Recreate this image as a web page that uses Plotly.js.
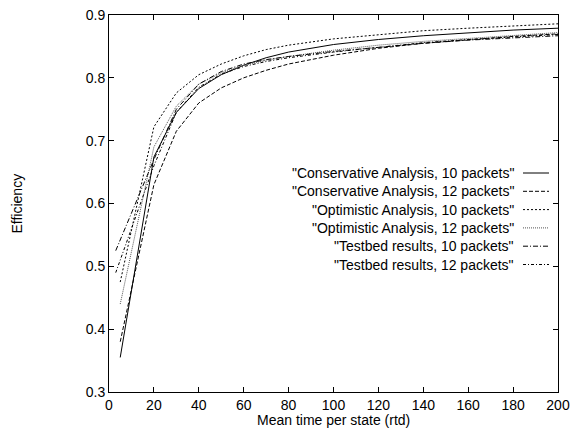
<!DOCTYPE html>
<html>
<head>
<meta charset="utf-8">
<script src="https://cdn.plot.ly/plotly-3.0.1.min.js"></script>
<style>html,body{margin:0;padding:0;background:#fff;}#chart{width:577px;height:438px;}</style>
</head>
<body>
<div id="chart"></div>
<script>
var names = [
  '"Conservative Analysis, 10 packets"',
  '"Conservative Analysis, 12 packets"',
  '"Optimistic Analysis, 10 packets"',
  '"Optimistic Analysis, 12 packets"',
  '"Testbed results, 10 packets"',
  '"Testbed results, 12 packets"'
];
var xAnalysis = [5, 20, 30, 40, 50, 60, 70, 80, 100, 120, 140, 160, 180, 200];
var xTestbed = [3, 20, 30, 40, 50, 60, 70, 80, 100, 120, 140, 160, 180, 200];
var cons10 = [0.355, 0.674, 0.745, 0.783, 0.805, 0.820, 0.832, 0.841, 0.853, 0.861, 0.867, 0.872, 0.876, 0.879];
var cons12 = [0.380, 0.630, 0.715, 0.760, 0.784, 0.800, 0.812, 0.822, 0.836, 0.847, 0.855, 0.861, 0.866, 0.870];
var opt10  = [0.475, 0.722, 0.776, 0.805, 0.822, 0.835, 0.845, 0.852, 0.862, 0.869, 0.875, 0.879, 0.883, 0.886];
var opt12  = [0.440, 0.690, 0.755, 0.790, 0.808, 0.820, 0.828, 0.834, 0.844, 0.852, 0.858, 0.863, 0.868, 0.872];
var test10 = [0.525, 0.670, 0.750, 0.790, 0.810, 0.822, 0.829, 0.834, 0.842, 0.849, 0.855, 0.860, 0.864, 0.867];
var test12 = [0.490, 0.660, 0.745, 0.785, 0.806, 0.818, 0.826, 0.832, 0.841, 0.849, 0.856, 0.861, 0.865, 0.869];
var xTicks = [0, 20, 40, 60, 80, 100, 120, 140, 160, 180, 200];
var yTicks = [0.3, 0.4, 0.5, 0.6, 0.7, 0.8, 0.9];

var dashes = ['solid', '4px,2px', '2px,2px', '1px,1px', '5px,2px,1px,2px', '3px,2px,1px,2px'];
var colors = ['#000', '#000', '#000', '#555', '#000', '#000'];
var xs = [xAnalysis, xAnalysis, xAnalysis, xAnalysis, xTestbed, xTestbed];
var ys = [cons10, cons12, opt10, opt12, test10, test12];

var traces = ys.map(function(y, i){
  return {x: xs[i], y: y, type: 'scatter', mode: 'lines', name: names[i],
    line: {color: colors[i], width: 1, dash: dashes[i]}, showlegend: false};
});

var font = {family: 'Liberation Sans, Arial, sans-serif', size: 14, color: '#000'};
var annotations = [];
var shapes = [];
var legTop = 173, legStep = 18.3;
names.forEach(function(n, i){
  var yy = legTop + i * legStep;
  annotations.push({xref: 'paper', yref: 'paper', x: (516 - 109) / 449, y: 1 - (yy - 15) / 377,
    text: n, showarrow: false, xanchor: 'right', yanchor: 'middle', font: font});
  shapes.push({type: 'line', xref: 'paper', yref: 'paper',
    x0: (523 - 109) / 449, x1: (549 - 109) / 449, y0: 1 - (yy - 15) / 377, y1: 1 - (yy - 15) / 377,
    line: {color: colors[i], width: 1, dash: dashes[i]}});
});
annotations.push({xref: 'paper', yref: 'paper', x: (16 - 109) / 449, y: 0.5, text: 'Efficiency',
  textangle: -90, showarrow: false, xanchor: 'center', yanchor: 'middle', font: font});
annotations.push({xref: 'paper', yref: 'paper', x: 0.5, y: 1 - (420 - 15) / 377, text: 'Mean time per state (rtd)',
  showarrow: false, xanchor: 'center', yanchor: 'middle', font: font});

var layout = {
  width: 577, height: 438,
  margin: {l: 109, r: 19, t: 15, b: 46},
  paper_bgcolor: '#fff', plot_bgcolor: '#fff',
  font: font,
  showlegend: false,
  xaxis: {range: [0, 200], tickvals: xTicks, ticks: 'inside', ticklen: 5, tickcolor: '#000',
    showgrid: false, zeroline: false, showline: true, linecolor: '#000', linewidth: 1, mirror: 'allticks',
    tickfont: font},
  yaxis: {range: [0.3, 0.9], tickvals: yTicks, ticktext: yTicks.map(function(v){return v.toFixed(1);}),
    ticks: 'inside', ticklen: 5, tickcolor: '#000',
    showgrid: false, zeroline: false, showline: true, linecolor: '#000', linewidth: 1, mirror: 'allticks',
    tickfont: font},
  annotations: annotations,
  shapes: shapes
};
Plotly.newPlot('chart', traces, layout, {staticPlot: true, displayModeBar: false});
</script>
</body>
</html>
